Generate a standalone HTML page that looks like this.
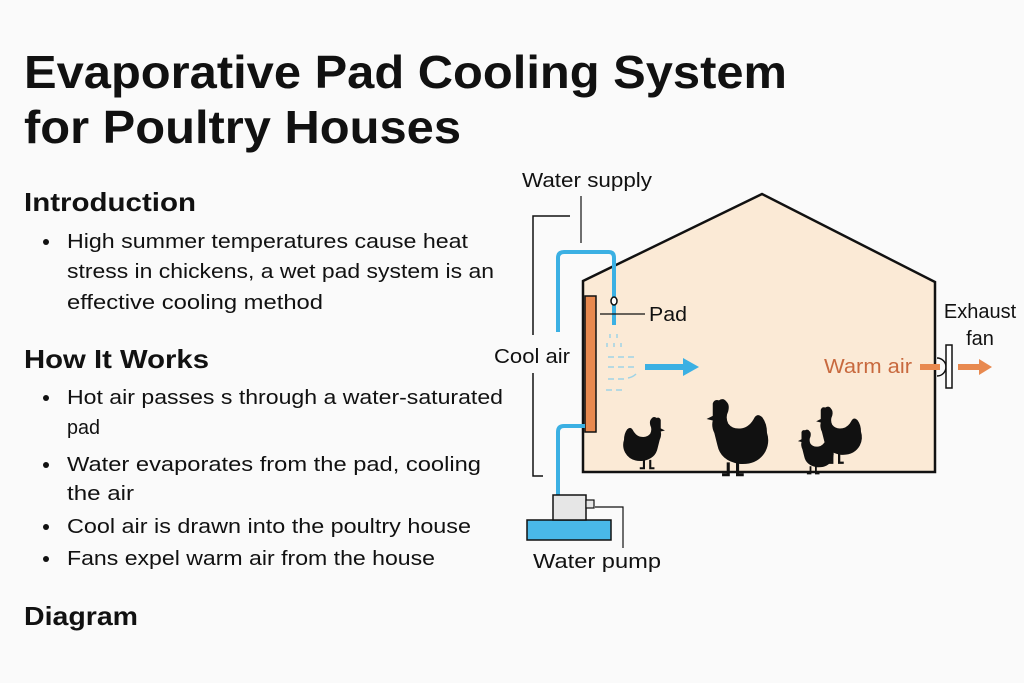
<!DOCTYPE html>
<html><head><meta charset="utf-8"><style>
html,body{margin:0;padding:0;background:#fafafa;}
svg{display:block;}
text{font-family:"Liberation Sans",sans-serif;fill:#111;}
</style></head><body>
<svg width="1024" height="683" viewBox="0 0 1024 683" xmlns="http://www.w3.org/2000/svg">
<rect width="1024" height="683" fill="#fafafa"/>
<g font-weight="bold">
<text x="24" y="88" font-size="46" textLength="763" lengthAdjust="spacingAndGlyphs">Evaporative Pad Cooling System</text>
<text x="24" y="143" font-size="46" textLength="437" lengthAdjust="spacingAndGlyphs">for Poultry Houses</text>
<text x="24" y="211" font-size="26" textLength="172" lengthAdjust="spacingAndGlyphs">Introduction</text>
<text x="24" y="368" font-size="26" textLength="185" lengthAdjust="spacingAndGlyphs">How It Works</text>
<text x="24" y="625" font-size="26" textLength="114" lengthAdjust="spacingAndGlyphs">Diagram</text>
</g>
<g font-size="20">
<circle cx="46" cy="242" r="3" fill="#111"/>
<text x="67" y="248" textLength="401" lengthAdjust="spacingAndGlyphs">High summer temperatures cause heat</text>
<text x="67" y="278" textLength="427" lengthAdjust="spacingAndGlyphs">stress in chickens, a wet pad system is an</text>
<text x="67" y="309" textLength="256" lengthAdjust="spacingAndGlyphs">effective cooling method</text>
<circle cx="46" cy="398" r="3" fill="#111"/>
<text x="67" y="404" textLength="436" lengthAdjust="spacingAndGlyphs">Hot air passes s through a water-saturated</text>
<text x="67" y="434" textLength="33" lengthAdjust="spacingAndGlyphs">pad</text>
<circle cx="46" cy="465" r="3" fill="#111"/>
<text x="67" y="471" textLength="414" lengthAdjust="spacingAndGlyphs">Water evaporates from the pad, cooling</text>
<text x="67" y="500" textLength="67" lengthAdjust="spacingAndGlyphs">the air</text>
<circle cx="46" cy="527" r="3" fill="#111"/>
<text x="67" y="533" textLength="404" lengthAdjust="spacingAndGlyphs">Cool air is drawn into the poultry house</text>
<circle cx="46" cy="559" r="3" fill="#111"/>
<text x="67" y="565" textLength="368" lengthAdjust="spacingAndGlyphs">Fans expel warm air from the house</text>
</g>

<polygon points="583,281 762,194 935,282 935,472 583,472" fill="#fbead6" stroke="#111" stroke-width="2.5"/>
<rect x="585" y="296" width="11" height="136" fill="#e8894f" stroke="#111" stroke-width="1.5"/>
<path d="M558,332 V258 Q558,252 564,252 H609 Q614,252 614,258 V325" fill="none" stroke="#3bb0e3" stroke-width="4"/>
<ellipse cx="614" cy="301" rx="3" ry="4" fill="#fff" stroke="#111" stroke-width="1.5"/>
<path d="M585,426 H564 Q558,426 558,432 V495" fill="none" stroke="#3bb0e3" stroke-width="4"/>
<g stroke="#9fd3e6" stroke-width="1.5" fill="none">
<path d="M610,334v4M617,334v4M607,343v4M614,343v4M621,343v4"/>
<path d="M608,357h6M618,357h6M628,357h6M608,367h6M618,367h6M628,367h6M608,379h6M618,379h6M628,378q5,-1 8,-4M606,390h6M616,390h6"/>
</g>
<path d="M645,367 H684" stroke="#3bb0e3" stroke-width="6"/>
<polygon points="683,358 699,367 683,376" fill="#3bb0e3"/>
<rect x="527" y="520" width="84" height="20" fill="#49b8e8" stroke="#111" stroke-width="1.5"/>
<rect x="553" y="495" width="33" height="25" fill="#e6e6e6" stroke="#111" stroke-width="1.5"/>
<rect x="586" y="500" width="8" height="8" fill="#e6e6e6" stroke="#111" stroke-width="1.2"/>
<path d="M595,507 H623 V548" fill="none" stroke="#111" stroke-width="1.2"/>
<text x="533" y="568" font-size="20" textLength="128" lengthAdjust="spacingAndGlyphs">Water pump</text>
<text x="522" y="187" font-size="20" textLength="130" lengthAdjust="spacingAndGlyphs">Water supply</text>
<path d="M581,196 V243" stroke="#111" stroke-width="1.2"/>
<path d="M570,216 H533 V335 M533,373 V476 H543" fill="none" stroke="#111" stroke-width="1.5"/>
<text x="494" y="363" font-size="20" textLength="76" lengthAdjust="spacingAndGlyphs">Cool air</text>
<path d="M600,314 H645" stroke="#111" stroke-width="1.2"/>
<text x="649" y="321" font-size="20" textLength="38" lengthAdjust="spacingAndGlyphs">Pad</text>
<text x="824" y="373" font-size="20" style="fill:#c8693e" textLength="88" lengthAdjust="spacingAndGlyphs">Warm air</text>
<path d="M920,367 H940" stroke="#e8894f" stroke-width="6"/>
<path d="M937,358 a7,7 0 0 1 0,18" fill="none" stroke="#111" stroke-width="1.5"/>
<rect x="946" y="345" width="6" height="43" fill="#fff" stroke="#111" stroke-width="1.5"/>
<path d="M958,367 H980" stroke="#e8894f" stroke-width="6"/>
<polygon points="979,359 992,367 979,375" fill="#e8894f"/>
<text x="980" y="318" font-size="20" text-anchor="middle">Exhaust</text>
<text x="980" y="345" font-size="20" text-anchor="middle">fan</text>
<defs>
<g id="hen">
<!-- facing left, ~40 wide, feet at y=45 -->
<path d="M5,7 l-4,2 l4,1 q-1,4 1,8 q1,4 2,8 q2,10 14,12 q12,1 17,-8 q3,-6 1,-12 q0,-6 -3,-10 q-3,-3 -5,0 q-3,6 -8,7 q-6,1 -9,-3 q-2,-4 0,-8 q1,-4 -1,-6 q-2,-3 -5,-1 q-3,-1 -4,2 z" fill="#111"/>
<path d="M15,37 v8 h-4 M21,37 v8 h4" stroke="#111" stroke-width="2" fill="none"/>
</g>
</defs>
<use href="#hen" transform="translate(666,421) scale(-1.05,1.05)"/>
<use href="#hen" transform="translate(705,405) scale(1.55,1.55)"/>
<use href="#hen" transform="translate(797,433) scale(0.9,0.9)"/>
<use href="#hen" transform="translate(815,411) scale(1.15,1.15)"/>
</svg>
</body></html>
